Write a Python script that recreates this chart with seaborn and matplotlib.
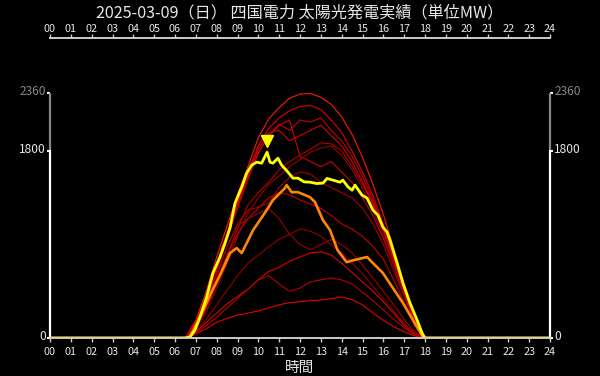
import numpy as np
import pandas as pd
import matplotlib
matplotlib.use("Agg")
import matplotlib.pyplot as plt
import matplotlib.transforms as mtransforms
import seaborn as sns

# ---------------- data ----------------
TITLE = "2025-03-09（日） 四国電力 太陽光発電実績（単位MW）"
XLABEL = "時間"
hour_ticks = list(range(0, 25))
hour_labels = [f"{h:02d}" for h in hour_ticks]
y_ticks = [0, 1800, 2360]
y_labels = ["0", "1800", "2360"]

# today (yellow)
today_h = [0, 6.48, 6.72, 6.96, 7.2, 7.52, 7.82, 8.16, 8.4, 8.64, 8.88, 9.2, 9.44, 9.68,
           9.92, 10.16, 10.42, 10.56, 10.7, 10.94, 11.12, 11.42, 11.66, 11.9, 12.2, 12.48,
           12.8, 13.1, 13.3, 13.58, 13.92, 14.06, 14.3, 14.5, 14.64, 14.98, 15.22, 15.5,
           15.74, 15.98, 16.18, 16.32, 16.66, 16.94, 17.28, 17.62, 17.86, 18.0, 24]
today_v = [0, 0, 10, 77, 202, 395, 626, 780, 914, 1060, 1299, 1453, 1588, 1665,
           1694, 1684, 1790, 1694, 1684, 1732, 1665, 1598, 1540, 1540, 1504, 1501,
           1488, 1492, 1537, 1521, 1501, 1521, 1456, 1424, 1473, 1376, 1347, 1232,
           1184, 1068, 1020, 943, 722, 529, 337, 173, 48, 0, 0]

# yesterday (orange)
prev_h = [0, 6.5, 6.72, 7.2, 7.8, 8.16, 8.64, 8.96, 9.2, 9.44, 9.75, 10.08, 10.4, 10.7,
          11.04, 11.28, 11.36, 11.6, 11.9, 12.48, 12.72, 13.1, 13.44, 13.8, 14.24, 14.6,
          15.0, 15.22, 15.5, 15.98, 16.46, 16.94, 17.42, 17.9, 18.0, 24]
prev_v = [0, 0, 10, 202, 462, 606, 818, 866, 818, 914, 1040, 1136, 1232, 1328,
          1396, 1444, 1473, 1405, 1405, 1357, 1309, 1136, 1040, 847, 731, 751,
          770, 780, 722, 626, 481, 337, 173, 10, 0, 0]

# past days (red), values at 6.5, 7.0, ..., 18.0
past_h = [6.5, 7.0, 7.5, 8.0, 8.5, 9.0, 9.5, 10.0, 10.5, 11.0, 11.5, 12.0,
          12.5, 13.0, 13.5, 14.0, 14.5, 15.0, 15.5, 16.0, 16.5, 17.0, 17.5, 18.0]
past_a = [0, 170, 450, 780, 1080, 1380, 1650, 1930, 2110, 2220, 2310, 2350, 2355, 2320, 2250, 2130, 1960, 1740, 1480, 1190, 860, 520, 200, 0]
past_b = [0, 150, 400, 720, 1020, 1320, 1600, 1850, 2020, 2120, 2190, 2230, 2240, 2200, 2100, 1980, 1800, 1600, 1370, 1100, 800, 480, 180, 0]
past_c = [0, 130, 380, 680, 980, 1280, 1550, 1780, 1950, 2060, 2000, 2100, 2080, 2120, 2000, 1900, 1750, 1560, 1330, 1080, 780, 460, 170, 0]
past_d = [0, 120, 350, 650, 950, 1250, 1530, 1780, 1950, 2050, 2100, 1750, 1700, 1650, 1700, 1600, 1500, 1350, 1180, 960, 700, 420, 150, 0]
past_e = [0, 100, 280, 520, 800, 1050, 1280, 1400, 1500, 1620, 1700, 1760, 1820, 1880, 1870, 1800, 1650, 1480, 1280, 1020, 740, 440, 160, 0]
past_f = [0, 90, 250, 480, 720, 980, 1200, 1350, 1480, 1560, 1650, 1720, 1790, 1830, 1850, 1760, 1620, 1440, 1240, 980, 700, 420, 150, 0]
past_g = [0, 110, 320, 600, 880, 1100, 1230, 1260, 1300, 1450, 1550, 1600, 1580, 1500, 1450, 1400, 1350, 1250, 1100, 900, 650, 400, 150, 0]
past_h2 = [0, 100, 300, 560, 800, 1000, 1150, 1250, 1350, 1400, 1380, 1330, 1290, 1250, 1180, 1100, 1050, 980, 880, 760, 560, 340, 120, 0]
past_i = [0, 60, 150, 240, 330, 400, 470, 560, 640, 680, 740, 780, 820, 830, 800, 720, 630, 540, 450, 350, 240, 120, 40, 0]
past_j = [0, 40, 90, 150, 190, 220, 240, 260, 290, 320, 340, 350, 360, 365, 380, 395, 370, 320, 240, 170, 110, 60, 20, 0]
past_k = [0, 50, 120, 200, 290, 380, 470, 560, 600, 520, 450, 480, 540, 560, 580, 560, 520, 440, 360, 270, 180, 100, 30, 0]
past_l = [0, 70, 180, 320, 460, 600, 720, 800, 880, 950, 1000, 1050, 1030, 980, 900, 820, 720, 620, 500, 380, 260, 140, 50, 0]
past_m = [0, 110, 330, 620, 880, 1080, 1150, 1200, 1250, 1150, 1000, 900, 850, 900, 950, 900, 820, 700, 580, 450, 320, 180, 60, 0]
past_n = [0, 140, 400, 700, 1000, 1300, 1580, 1820, 1980, 2000, 1900, 1950, 2000, 2050, 1950, 1850, 1700, 1500, 1300, 1050, 760, 450, 160, 0]
past_names = ["a", "b", "c", "d", "e", "f", "g", "h", "i", "j", "k", "l", "m", "n"]
past_series = [past_a, past_b, past_c, past_d, past_e, past_f, past_g, past_h2,
               past_i, past_j, past_k, past_l, past_m, past_n]
past_colors = ["#ff1a00", "#e00000", "#c80000", "#d00000", "#b00000", "#9a0000", "#a80000",
               "#c00000", "#e00000", "#e80000", "#b80000", "#900000", "#a00000", "#d80000"]

peak_h = 10.42
peak_v = 1896

# ---------------- style ----------------
sns.set_theme(style="dark")
plt.rcParams["font.family"] = ["Noto Sans CJK JP", "DejaVu Sans"]
BG = "#000000"
FG = "#e8e8e8"
GRAY = "#888888"

fig = plt.figure(figsize=(6.0, 3.76), dpi=100, facecolor=BG)
ax = fig.add_axes([50 / 600, 38 / 376, 500 / 600, 300 / 376])
ax.set_facecolor(BG)

rows = []
for name, vals in zip(past_names, past_series):
    for h, v in zip([0] + past_h + [24], [0] + vals + [0]):
        rows.append({"day": name, "hour": h, "mw": v})
df_past = pd.DataFrame(rows)
sns.lineplot(data=df_past, x="hour", y="mw", hue="day", hue_order=past_names,
             palette=dict(zip(past_names, past_colors)), estimator=None,
             linewidth=0.8, legend=False, ax=ax, sort=False)

sns.lineplot(x=prev_h, y=prev_v, color="#ff8800", linewidth=1.9, ax=ax,
             estimator=None, sort=False)
sns.lineplot(x=today_h, y=today_v, color="#ffff00", linewidth=2.0, ax=ax,
             estimator=None, sort=False)
ax.plot([peak_h], [peak_v], marker="v", color="#ffff00", markersize=8, linestyle="none")

ax.set_xlim(0, 24)
ax.set_ylim(0, 2890)
ax.grid(False)

# spines
for s in ["left", "right"]:
    ax.spines[s].set_bounds(0, 1800)
    ax.spines[s].set_color("#ffffff")
    ax.spines[s].set_linewidth(1.6)
for s in ["top", "bottom"]:
    ax.spines[s].set_color("#cccccc")
    ax.spines[s].set_linewidth(1.4)
for xpos in [0, 24]:
    ax.plot([xpos, xpos], [1800, 2360], color=GRAY, linewidth=1.6,
            clip_on=False, solid_capstyle="butt")

ax.set_xticks(hour_ticks)
ax.set_xticklabels(hour_labels)
ax.tick_params(axis="x", which="both", top=True, bottom=True, labeltop=True,
               labelbottom=True, colors="#cccccc", labelcolor=FG, labelsize=7.8,
               length=3, width=1, pad=3.5, direction="out")
down = mtransforms.ScaledTranslation(0, -5 / 100, fig.dpi_scale_trans)
for t in ax.xaxis.get_major_ticks():
    t.label2.set_transform(t.label2.get_transform() + down)

ax.set_yticks(y_ticks)
ax.set_yticklabels(y_labels)
ax.tick_params(axis="y", which="both", left=True, right=True, labelleft=True,
               labelright=True, colors="#ffffff", labelcolor=FG, labelsize=8.6,
               length=2, width=1.5, pad=1)
shift = mtransforms.ScaledTranslation(0, 3 / 100, fig.dpi_scale_trans)
for t in ax.yaxis.get_major_ticks():
    t.label1.set_transform(t.label1.get_transform() + shift)
    t.label2.set_transform(t.label2.get_transform() + shift)
    if abs(t.get_loc() - 2360) < 1:
        t.label1.set_color(GRAY)
        t.label2.set_color(GRAY)
        t.tick1line.set_color(GRAY)
        t.tick2line.set_color(GRAY)

ax.set_xlabel(XLABEL, color=FG, fontsize=10.5, labelpad=3)
ax.set_ylabel("")
fig.text(0.5, 0.965, TITLE, ha="center", va="center", color=FG, fontsize=11.6)

fig.savefig("out.png", dpi=100, facecolor=BG)
